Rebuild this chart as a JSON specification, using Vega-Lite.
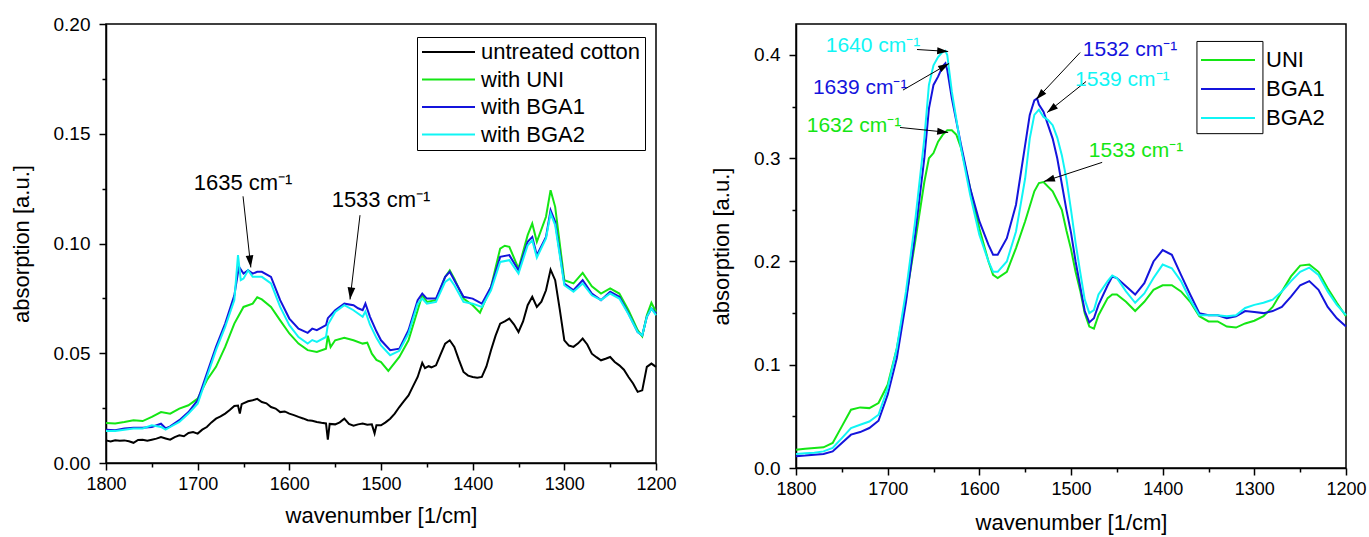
{
  "$schema": "https://vega.github.io/schema/vega-lite/v6.json",
  "padding": {"left": 9, "top": 14, "right": 5, "bottom": 5},
  "spacing": 32,
  "background": "white",
  "resolve": {"scale": {"color": "independent", "fill": "independent"}, "legend": {"color": "independent", "fill": "independent"}},
  "config": {
    "font": "Liberation Sans",
    "view": {"stroke": "black", "strokeWidth": 1.5},
    "axis": {"domainColor": "black", "domainWidth": 1.5, "tickColor": "black", "tickWidth": 1.5, "labelColor": "black", "labelFontSize": 18, "titleFontSize": 22, "titleFontWeight": "normal", "titleColor": "black", "grid": false, "labelFlush": false, "labelOverlap": false, "labelFont": "Liberation Sans", "titleFont": "Liberation Sans"},
    "legend": {"labelFont": "Liberation Sans", "labelColor": "black"}
  },
  "datasets": {
    "L": [
      {"w":1800,"s":"untreated cotton","a":0.0103},{"w":1795,"s":"untreated cotton","a":0.0098},{"w":1790,"s":"untreated cotton","a":0.0104},{"w":1785,"s":"untreated cotton","a":0.0101},{"w":1780,"s":"untreated cotton","a":0.0103},{"w":1775,"s":"untreated cotton","a":0.0099},{"w":1770,"s":"untreated cotton","a":0.0092},{"w":1765,"s":"untreated cotton","a":0.0105},{"w":1760,"s":"untreated cotton","a":0.0106},{"w":1755,"s":"untreated cotton","a":0.0101},{"w":1750,"s":"untreated cotton","a":0.0106},{"w":1745,"s":"untreated cotton","a":0.0111},{"w":1740,"s":"untreated cotton","a":0.0118},{"w":1735,"s":"untreated cotton","a":0.0112},{"w":1730,"s":"untreated cotton","a":0.0106},{"w":1725,"s":"untreated cotton","a":0.0118},{"w":1720,"s":"untreated cotton","a":0.0126},{"w":1715,"s":"untreated cotton","a":0.0122},{"w":1710,"s":"untreated cotton","a":0.0137},{"w":1705,"s":"untreated cotton","a":0.0141},{"w":1700,"s":"untreated cotton","a":0.0134},{"w":1695,"s":"untreated cotton","a":0.0152},{"w":1690,"s":"untreated cotton","a":0.0164},{"w":1685,"s":"untreated cotton","a":0.0185},{"w":1680,"s":"untreated cotton","a":0.0202},{"w":1675,"s":"untreated cotton","a":0.0212},{"w":1670,"s":"untreated cotton","a":0.0225},{"w":1665,"s":"untreated cotton","a":0.0241},{"w":1660,"s":"untreated cotton","a":0.026},{"w":1656,"s":"untreated cotton","a":0.0262},{"w":1654,"s":"untreated cotton","a":0.0225},{"w":1652,"s":"untreated cotton","a":0.0268},{"w":1645,"s":"untreated cotton","a":0.0281},{"w":1640,"s":"untreated cotton","a":0.0286},{"w":1635,"s":"untreated cotton","a":0.0292},{"w":1630,"s":"untreated cotton","a":0.0278},{"w":1625,"s":"untreated cotton","a":0.0272},{"w":1620,"s":"untreated cotton","a":0.0255},{"w":1615,"s":"untreated cotton","a":0.0248},{"w":1610,"s":"untreated cotton","a":0.0232},{"w":1605,"s":"untreated cotton","a":0.0235},{"w":1600,"s":"untreated cotton","a":0.0225},{"w":1595,"s":"untreated cotton","a":0.0218},{"w":1590,"s":"untreated cotton","a":0.021},{"w":1585,"s":"untreated cotton","a":0.0203},{"w":1580,"s":"untreated cotton","a":0.0195},{"w":1575,"s":"untreated cotton","a":0.0192},{"w":1570,"s":"untreated cotton","a":0.0187},{"w":1565,"s":"untreated cotton","a":0.0183},{"w":1560,"s":"untreated cotton","a":0.018},{"w":1558,"s":"untreated cotton","a":0.0106},{"w":1556,"s":"untreated cotton","a":0.0178},{"w":1550,"s":"untreated cotton","a":0.0176},{"w":1545,"s":"untreated cotton","a":0.0185},{"w":1540,"s":"untreated cotton","a":0.0202},{"w":1535,"s":"untreated cotton","a":0.0178},{"w":1530,"s":"untreated cotton","a":0.017},{"w":1525,"s":"untreated cotton","a":0.0176},{"w":1520,"s":"untreated cotton","a":0.018},{"w":1515,"s":"untreated cotton","a":0.0174},{"w":1510,"s":"untreated cotton","a":0.0176},{"w":1507,"s":"untreated cotton","a":0.0135},{"w":1505,"s":"untreated cotton","a":0.0172},{"w":1500,"s":"untreated cotton","a":0.0172},{"w":1495,"s":"untreated cotton","a":0.0185},{"w":1490,"s":"untreated cotton","a":0.0202},{"w":1485,"s":"untreated cotton","a":0.0225},{"w":1480,"s":"untreated cotton","a":0.0255},{"w":1475,"s":"untreated cotton","a":0.0282},{"w":1470,"s":"untreated cotton","a":0.0308},{"w":1465,"s":"untreated cotton","a":0.035},{"w":1460,"s":"untreated cotton","a":0.0392},{"w":1455,"s":"untreated cotton","a":0.0456},{"w":1452,"s":"untreated cotton","a":0.0432},{"w":1448,"s":"untreated cotton","a":0.0441},{"w":1445,"s":"untreated cotton","a":0.0436},{"w":1440,"s":"untreated cotton","a":0.0445},{"w":1435,"s":"untreated cotton","a":0.0495},{"w":1430,"s":"untreated cotton","a":0.0544},{"w":1425,"s":"untreated cotton","a":0.0559},{"w":1420,"s":"untreated cotton","a":0.0529},{"w":1415,"s":"untreated cotton","a":0.047},{"w":1410,"s":"untreated cotton","a":0.0415},{"w":1405,"s":"untreated cotton","a":0.0398},{"w":1400,"s":"untreated cotton","a":0.0392},{"w":1395,"s":"untreated cotton","a":0.0389},{"w":1390,"s":"untreated cotton","a":0.0392},{"w":1385,"s":"untreated cotton","a":0.044},{"w":1380,"s":"untreated cotton","a":0.0514},{"w":1375,"s":"untreated cotton","a":0.058},{"w":1370,"s":"untreated cotton","a":0.0635},{"w":1365,"s":"untreated cotton","a":0.0645},{"w":1360,"s":"untreated cotton","a":0.0658},{"w":1355,"s":"untreated cotton","a":0.0632},{"w":1350,"s":"untreated cotton","a":0.0597},{"w":1345,"s":"untreated cotton","a":0.0645},{"w":1340,"s":"untreated cotton","a":0.0719},{"w":1335,"s":"untreated cotton","a":0.0757},{"w":1330,"s":"untreated cotton","a":0.0711},{"w":1325,"s":"untreated cotton","a":0.0735},{"w":1320,"s":"untreated cotton","a":0.0787},{"w":1315,"s":"untreated cotton","a":0.0881},{"w":1310,"s":"untreated cotton","a":0.0833},{"w":1305,"s":"untreated cotton","a":0.07},{"w":1300,"s":"untreated cotton","a":0.0559},{"w":1295,"s":"untreated cotton","a":0.0535},{"w":1290,"s":"untreated cotton","a":0.0529},{"w":1285,"s":"untreated cotton","a":0.0545},{"w":1280,"s":"untreated cotton","a":0.0567},{"w":1275,"s":"untreated cotton","a":0.054},{"w":1270,"s":"untreated cotton","a":0.0498},{"w":1265,"s":"untreated cotton","a":0.0482},{"w":1260,"s":"untreated cotton","a":0.0468},{"w":1255,"s":"untreated cotton","a":0.0475},{"w":1250,"s":"untreated cotton","a":0.0483},{"w":1245,"s":"untreated cotton","a":0.046},{"w":1240,"s":"untreated cotton","a":0.0445},{"w":1235,"s":"untreated cotton","a":0.0425},{"w":1230,"s":"untreated cotton","a":0.0392},{"w":1225,"s":"untreated cotton","a":0.0362},{"w":1220,"s":"untreated cotton","a":0.0324},{"w":1215,"s":"untreated cotton","a":0.0331},{"w":1210,"s":"untreated cotton","a":0.0438},{"w":1205,"s":"untreated cotton","a":0.0453},{"w":1200,"s":"untreated cotton","a":0.0438},

      {"w":1800,"s":"with UNI","a":0.0182},{"w":1790,"s":"with UNI","a":0.018},{"w":1780,"s":"with UNI","a":0.0187},{"w":1770,"s":"with UNI","a":0.0195},{"w":1760,"s":"with UNI","a":0.0191},{"w":1750,"s":"with UNI","a":0.021},{"w":1740,"s":"with UNI","a":0.0232},{"w":1730,"s":"with UNI","a":0.0225},{"w":1720,"s":"with UNI","a":0.0248},{"w":1710,"s":"with UNI","a":0.0263},{"w":1700,"s":"with UNI","a":0.0293},{"w":1690,"s":"with UNI","a":0.0377},{"w":1680,"s":"with UNI","a":0.0438},{"w":1670,"s":"with UNI","a":0.0529},{"w":1660,"s":"with UNI","a":0.0635},{"w":1650,"s":"with UNI","a":0.0711},{"w":1640,"s":"with UNI","a":0.0726},{"w":1635,"s":"with UNI","a":0.0755},{"w":1630,"s":"with UNI","a":0.0745},{"w":1620,"s":"with UNI","a":0.0711},{"w":1610,"s":"with UNI","a":0.065},{"w":1600,"s":"with UNI","a":0.059},{"w":1590,"s":"with UNI","a":0.0544},{"w":1580,"s":"with UNI","a":0.0514},{"w":1570,"s":"with UNI","a":0.0506},{"w":1560,"s":"with UNI","a":0.0521},{"w":1558,"s":"with UNI","a":0.058},{"w":1555,"s":"with UNI","a":0.0528},{"w":1550,"s":"with UNI","a":0.0559},{"w":1540,"s":"with UNI","a":0.0571},{"w":1530,"s":"with UNI","a":0.0559},{"w":1520,"s":"with UNI","a":0.0544},{"w":1515,"s":"with UNI","a":0.0548},{"w":1510,"s":"with UNI","a":0.0498},{"w":1505,"s":"with UNI","a":0.047},{"w":1500,"s":"with UNI","a":0.046},{"w":1492,"s":"with UNI","a":0.042},{"w":1480,"s":"with UNI","a":0.0483},{"w":1470,"s":"with UNI","a":0.0559},{"w":1460,"s":"with UNI","a":0.0696},{"w":1455,"s":"with UNI","a":0.0764},{"w":1450,"s":"with UNI","a":0.0734},{"w":1440,"s":"with UNI","a":0.0742},{"w":1430,"s":"with UNI","a":0.0848},{"w":1425,"s":"with UNI","a":0.0878},{"w":1420,"s":"with UNI","a":0.084},{"w":1410,"s":"with UNI","a":0.0749},{"w":1400,"s":"with UNI","a":0.0719},{"w":1392,"s":"with UNI","a":0.0685},{"w":1380,"s":"with UNI","a":0.0802},{"w":1370,"s":"with UNI","a":0.0977},{"w":1365,"s":"with UNI","a":0.099},{"w":1360,"s":"with UNI","a":0.0985},{"w":1350,"s":"with UNI","a":0.0886},{"w":1340,"s":"with UNI","a":0.1038},{"w":1335,"s":"with UNI","a":0.1091},{"w":1330,"s":"with UNI","a":0.1008},{"w":1320,"s":"with UNI","a":0.1122},{"w":1315,"s":"with UNI","a":0.1243},{"w":1310,"s":"with UNI","a":0.1167},{"w":1300,"s":"with UNI","a":0.0833},{"w":1290,"s":"with UNI","a":0.0818},{"w":1280,"s":"with UNI","a":0.0866},{"w":1270,"s":"with UNI","a":0.0805},{"w":1260,"s":"with UNI","a":0.0772},{"w":1250,"s":"with UNI","a":0.0795},{"w":1240,"s":"with UNI","a":0.0772},{"w":1230,"s":"with UNI","a":0.0696},{"w":1220,"s":"with UNI","a":0.0605},{"w":1215,"s":"with UNI","a":0.0577},{"w":1210,"s":"with UNI","a":0.0673},{"w":1205,"s":"with UNI","a":0.073},{"w":1200,"s":"with UNI","a":0.0688},

      {"w":1800,"s":"with BGA1","a":0.0152},{"w":1790,"s":"with BGA1","a":0.0149},{"w":1780,"s":"with BGA1","a":0.0157},{"w":1770,"s":"with BGA1","a":0.0161},{"w":1760,"s":"with BGA1","a":0.0161},{"w":1750,"s":"with BGA1","a":0.0164},{"w":1740,"s":"with BGA1","a":0.0179},{"w":1735,"s":"with BGA1","a":0.0158},{"w":1730,"s":"with BGA1","a":0.0167},{"w":1720,"s":"with BGA1","a":0.0195},{"w":1710,"s":"with BGA1","a":0.0232},{"w":1700,"s":"with BGA1","a":0.0286},{"w":1690,"s":"with BGA1","a":0.0407},{"w":1680,"s":"with BGA1","a":0.0529},{"w":1670,"s":"with BGA1","a":0.0635},{"w":1660,"s":"with BGA1","a":0.0764},{"w":1655,"s":"with BGA1","a":0.0894},{"w":1650,"s":"with BGA1","a":0.0863},{"w":1645,"s":"with BGA1","a":0.0878},{"w":1640,"s":"with BGA1","a":0.0863},{"w":1635,"s":"with BGA1","a":0.0871},{"w":1630,"s":"with BGA1","a":0.0871},{"w":1620,"s":"with BGA1","a":0.0848},{"w":1610,"s":"with BGA1","a":0.0742},{"w":1600,"s":"with BGA1","a":0.0658},{"w":1590,"s":"with BGA1","a":0.0612},{"w":1580,"s":"with BGA1","a":0.0593},{"w":1575,"s":"with BGA1","a":0.0612},{"w":1570,"s":"with BGA1","a":0.0605},{"w":1560,"s":"with BGA1","a":0.0628},{"w":1558,"s":"with BGA1","a":0.066},{"w":1550,"s":"with BGA1","a":0.0696},{"w":1540,"s":"with BGA1","a":0.0726},{"w":1530,"s":"with BGA1","a":0.0719},{"w":1525,"s":"with BGA1","a":0.0705},{"w":1520,"s":"with BGA1","a":0.0696},{"w":1517,"s":"with BGA1","a":0.0726},{"w":1512,"s":"with BGA1","a":0.0666},{"w":1505,"s":"with BGA1","a":0.06},{"w":1500,"s":"with BGA1","a":0.0559},{"w":1490,"s":"with BGA1","a":0.0514},{"w":1480,"s":"with BGA1","a":0.0521},{"w":1470,"s":"with BGA1","a":0.0605},{"w":1460,"s":"with BGA1","a":0.0742},{"w":1455,"s":"with BGA1","a":0.0772},{"w":1450,"s":"with BGA1","a":0.0749},{"w":1440,"s":"with BGA1","a":0.0749},{"w":1430,"s":"with BGA1","a":0.0848},{"w":1425,"s":"with BGA1","a":0.0871},{"w":1420,"s":"with BGA1","a":0.0833},{"w":1410,"s":"with BGA1","a":0.0757},{"w":1400,"s":"with BGA1","a":0.0749},{"w":1390,"s":"with BGA1","a":0.0726},{"w":1380,"s":"with BGA1","a":0.0802},{"w":1370,"s":"with BGA1","a":0.0939},{"w":1360,"s":"with BGA1","a":0.0947},{"w":1350,"s":"with BGA1","a":0.0878},{"w":1340,"s":"with BGA1","a":0.1008},{"w":1335,"s":"with BGA1","a":0.103},{"w":1330,"s":"with BGA1","a":0.0947},{"w":1320,"s":"with BGA1","a":0.103},{"w":1315,"s":"with BGA1","a":0.1152},{"w":1310,"s":"with BGA1","a":0.1099},{"w":1300,"s":"with BGA1","a":0.0818},{"w":1290,"s":"with BGA1","a":0.0787},{"w":1280,"s":"with BGA1","a":0.0833},{"w":1270,"s":"with BGA1","a":0.0772},{"w":1260,"s":"with BGA1","a":0.0742},{"w":1250,"s":"with BGA1","a":0.078},{"w":1240,"s":"with BGA1","a":0.0757},{"w":1230,"s":"with BGA1","a":0.0681},{"w":1220,"s":"with BGA1","a":0.0597},{"w":1215,"s":"with BGA1","a":0.0582},{"w":1210,"s":"with BGA1","a":0.0666},{"w":1205,"s":"with BGA1","a":0.0704},{"w":1200,"s":"with BGA1","a":0.0681},

      {"w":1800,"s":"with BGA2","a":0.0146},{"w":1790,"s":"with BGA2","a":0.0146},{"w":1780,"s":"with BGA2","a":0.0152},{"w":1770,"s":"with BGA2","a":0.0157},{"w":1760,"s":"with BGA2","a":0.0157},{"w":1750,"s":"with BGA2","a":0.0172},{"w":1740,"s":"with BGA2","a":0.0164},{"w":1735,"s":"with BGA2","a":0.0152},{"w":1730,"s":"with BGA2","a":0.0164},{"w":1720,"s":"with BGA2","a":0.0187},{"w":1710,"s":"with BGA2","a":0.0225},{"w":1700,"s":"with BGA2","a":0.027},{"w":1690,"s":"with BGA2","a":0.0392},{"w":1680,"s":"with BGA2","a":0.0514},{"w":1670,"s":"with BGA2","a":0.062},{"w":1660,"s":"with BGA2","a":0.0742},{"w":1656,"s":"with BGA2","a":0.0947},{"w":1653,"s":"with BGA2","a":0.0833},{"w":1650,"s":"with BGA2","a":0.084},{"w":1645,"s":"with BGA2","a":0.0878},{"w":1640,"s":"with BGA2","a":0.0848},{"w":1630,"s":"with BGA2","a":0.0848},{"w":1620,"s":"with BGA2","a":0.0818},{"w":1610,"s":"with BGA2","a":0.0711},{"w":1600,"s":"with BGA2","a":0.0628},{"w":1590,"s":"with BGA2","a":0.0574},{"w":1580,"s":"with BGA2","a":0.0544},{"w":1575,"s":"with BGA2","a":0.056},{"w":1570,"s":"with BGA2","a":0.0552},{"w":1560,"s":"with BGA2","a":0.0574},{"w":1558,"s":"with BGA2","a":0.063},{"w":1550,"s":"with BGA2","a":0.0688},{"w":1540,"s":"with BGA2","a":0.0719},{"w":1530,"s":"with BGA2","a":0.0696},{"w":1520,"s":"with BGA2","a":0.0666},{"w":1517,"s":"with BGA2","a":0.069},{"w":1512,"s":"with BGA2","a":0.063},{"w":1505,"s":"with BGA2","a":0.057},{"w":1500,"s":"with BGA2","a":0.0536},{"w":1490,"s":"with BGA2","a":0.0491},{"w":1480,"s":"with BGA2","a":0.0511},{"w":1470,"s":"with BGA2","a":0.059},{"w":1460,"s":"with BGA2","a":0.0726},{"w":1455,"s":"with BGA2","a":0.0749},{"w":1450,"s":"with BGA2","a":0.0726},{"w":1440,"s":"with BGA2","a":0.0734},{"w":1430,"s":"with BGA2","a":0.0825},{"w":1425,"s":"with BGA2","a":0.084},{"w":1420,"s":"with BGA2","a":0.081},{"w":1410,"s":"with BGA2","a":0.0734},{"w":1400,"s":"with BGA2","a":0.0726},{"w":1390,"s":"with BGA2","a":0.0711},{"w":1380,"s":"with BGA2","a":0.0787},{"w":1370,"s":"with BGA2","a":0.0916},{"w":1360,"s":"with BGA2","a":0.0924},{"w":1350,"s":"with BGA2","a":0.0863},{"w":1340,"s":"with BGA2","a":0.0992},{"w":1335,"s":"with BGA2","a":0.1015},{"w":1330,"s":"with BGA2","a":0.0936},{"w":1320,"s":"with BGA2","a":0.1023},{"w":1315,"s":"with BGA2","a":0.1137},{"w":1310,"s":"with BGA2","a":0.1084},{"w":1300,"s":"with BGA2","a":0.081},{"w":1290,"s":"with BGA2","a":0.078},{"w":1280,"s":"with BGA2","a":0.0818},{"w":1270,"s":"with BGA2","a":0.0764},{"w":1260,"s":"with BGA2","a":0.0742},{"w":1250,"s":"with BGA2","a":0.0772},{"w":1240,"s":"with BGA2","a":0.0749},{"w":1230,"s":"with BGA2","a":0.0678},{"w":1220,"s":"with BGA2","a":0.0597},{"w":1215,"s":"with BGA2","a":0.0582},{"w":1210,"s":"with BGA2","a":0.0666},{"w":1205,"s":"with BGA2","a":0.0704},{"w":1200,"s":"with BGA2","a":0.0673}
    ],
    "R": [
      {"w":1800,"s":"UNI","a":0.0177},{"w":1790,"s":"UNI","a":0.0187},{"w":1780,"s":"UNI","a":0.0194},{"w":1770,"s":"UNI","a":0.02},{"w":1760,"s":"UNI","a":0.0242},{"w":1750,"s":"UNI","a":0.0403},{"w":1740,"s":"UNI","a":0.0565},{"w":1730,"s":"UNI","a":0.0587},{"w":1720,"s":"UNI","a":0.058},{"w":1710,"s":"UNI","a":0.0629},{"w":1700,"s":"UNI","a":0.0806},{"w":1690,"s":"UNI","a":0.116},{"w":1680,"s":"UNI","a":0.1645},{"w":1670,"s":"UNI","a":0.219},{"w":1660,"s":"UNI","a":0.277},{"w":1655,"s":"UNI","a":0.3},{"w":1650,"s":"UNI","a":0.305},{"w":1645,"s":"UNI","a":0.316},{"w":1640,"s":"UNI","a":0.3226},{"w":1635,"s":"UNI","a":0.327},{"w":1630,"s":"UNI","a":0.327},{"w":1625,"s":"UNI","a":0.3226},{"w":1620,"s":"UNI","a":0.31},{"w":1610,"s":"UNI","a":0.271},{"w":1600,"s":"UNI","a":0.232},{"w":1590,"s":"UNI","a":0.2},{"w":1585,"s":"UNI","a":0.187},{"w":1580,"s":"UNI","a":0.184},{"w":1570,"s":"UNI","a":0.19},{"w":1560,"s":"UNI","a":0.213},{"w":1550,"s":"UNI","a":0.239},{"w":1540,"s":"UNI","a":0.268},{"w":1535,"s":"UNI","a":0.276},{"w":1530,"s":"UNI","a":0.277},{"w":1520,"s":"UNI","a":0.268},{"w":1510,"s":"UNI","a":0.25},{"w":1505,"s":"UNI","a":0.23},{"w":1500,"s":"UNI","a":0.212},{"w":1495,"s":"UNI","a":0.19},{"w":1490,"s":"UNI","a":0.172},{"w":1485,"s":"UNI","a":0.15},{"w":1480,"s":"UNI","a":0.137},{"w":1475,"s":"UNI","a":0.135},{"w":1470,"s":"UNI","a":0.148},{"w":1460,"s":"UNI","a":0.1645},{"w":1455,"s":"UNI","a":0.168},{"w":1450,"s":"UNI","a":0.168},{"w":1440,"s":"UNI","a":0.161},{"w":1430,"s":"UNI","a":0.152},{"w":1420,"s":"UNI","a":0.161},{"w":1410,"s":"UNI","a":0.1726},{"w":1400,"s":"UNI","a":0.177},{"w":1390,"s":"UNI","a":0.177},{"w":1380,"s":"UNI","a":0.171},{"w":1370,"s":"UNI","a":0.161},{"w":1360,"s":"UNI","a":0.147},{"w":1350,"s":"UNI","a":0.142},{"w":1340,"s":"UNI","a":0.142},{"w":1330,"s":"UNI","a":0.137},{"w":1320,"s":"UNI","a":0.136},{"w":1310,"s":"UNI","a":0.14},{"w":1300,"s":"UNI","a":0.1426},{"w":1290,"s":"UNI","a":0.147},{"w":1280,"s":"UNI","a":0.156},{"w":1270,"s":"UNI","a":0.171},{"w":1260,"s":"UNI","a":0.1855},{"w":1250,"s":"UNI","a":0.196},{"w":1240,"s":"UNI","a":0.197},{"w":1230,"s":"UNI","a":0.19},{"w":1220,"s":"UNI","a":0.174},{"w":1210,"s":"UNI","a":0.16},{"w":1200,"s":"UNI","a":0.147},

      {"w":1800,"s":"BGA1","a":0.0113},{"w":1790,"s":"BGA1","a":0.012},{"w":1780,"s":"BGA1","a":0.0129},{"w":1770,"s":"BGA1","a":0.0135},{"w":1760,"s":"BGA1","a":0.0161},{"w":1750,"s":"BGA1","a":0.0242},{"w":1740,"s":"BGA1","a":0.0323},{"w":1730,"s":"BGA1","a":0.0348},{"w":1720,"s":"BGA1","a":0.0387},{"w":1710,"s":"BGA1","a":0.0458},{"w":1700,"s":"BGA1","a":0.071},{"w":1690,"s":"BGA1","a":0.1065},{"w":1680,"s":"BGA1","a":0.161},{"w":1670,"s":"BGA1","a":0.226},{"w":1660,"s":"BGA1","a":0.3},{"w":1655,"s":"BGA1","a":0.348},{"w":1650,"s":"BGA1","a":0.371},{"w":1645,"s":"BGA1","a":0.379},{"w":1640,"s":"BGA1","a":0.389},{"w":1637,"s":"BGA1","a":0.392},{"w":1635,"s":"BGA1","a":0.3855},{"w":1630,"s":"BGA1","a":0.358},{"w":1620,"s":"BGA1","a":0.313},{"w":1610,"s":"BGA1","a":0.271},{"w":1600,"s":"BGA1","a":0.239},{"w":1590,"s":"BGA1","a":0.216},{"w":1585,"s":"BGA1","a":0.2065},{"w":1580,"s":"BGA1","a":0.2065},{"w":1570,"s":"BGA1","a":0.2226},{"w":1560,"s":"BGA1","a":0.255},{"w":1550,"s":"BGA1","a":0.313},{"w":1545,"s":"BGA1","a":0.342},{"w":1540,"s":"BGA1","a":0.356},{"w":1537,"s":"BGA1","a":0.358},{"w":1535,"s":"BGA1","a":0.352},{"w":1530,"s":"BGA1","a":0.345},{"w":1520,"s":"BGA1","a":0.319},{"w":1515,"s":"BGA1","a":0.3},{"w":1510,"s":"BGA1","a":0.275},{"w":1505,"s":"BGA1","a":0.25},{"w":1500,"s":"BGA1","a":0.228},{"w":1495,"s":"BGA1","a":0.2},{"w":1490,"s":"BGA1","a":0.176},{"w":1485,"s":"BGA1","a":0.152},{"w":1480,"s":"BGA1","a":0.141},{"w":1475,"s":"BGA1","a":0.145},{"w":1470,"s":"BGA1","a":0.158},{"w":1460,"s":"BGA1","a":0.177},{"w":1455,"s":"BGA1","a":0.1855},{"w":1450,"s":"BGA1","a":0.184},{"w":1440,"s":"BGA1","a":0.176},{"w":1430,"s":"BGA1","a":0.168},{"w":1420,"s":"BGA1","a":0.179},{"w":1410,"s":"BGA1","a":0.2},{"w":1400,"s":"BGA1","a":0.211},{"w":1390,"s":"BGA1","a":0.2065},{"w":1380,"s":"BGA1","a":0.187},{"w":1370,"s":"BGA1","a":0.168},{"w":1360,"s":"BGA1","a":0.15},{"w":1350,"s":"BGA1","a":0.148},{"w":1340,"s":"BGA1","a":0.148},{"w":1330,"s":"BGA1","a":0.145},{"w":1320,"s":"BGA1","a":0.147},{"w":1310,"s":"BGA1","a":0.152},{"w":1300,"s":"BGA1","a":0.151},{"w":1290,"s":"BGA1","a":0.15},{"w":1280,"s":"BGA1","a":0.152},{"w":1270,"s":"BGA1","a":0.156},{"w":1260,"s":"BGA1","a":0.166},{"w":1250,"s":"BGA1","a":0.177},{"w":1240,"s":"BGA1","a":0.181},{"w":1230,"s":"BGA1","a":0.1726},{"w":1220,"s":"BGA1","a":0.156},{"w":1210,"s":"BGA1","a":0.145},{"w":1200,"s":"BGA1","a":0.137},

      {"w":1800,"s":"BGA2","a":0.0135},{"w":1790,"s":"BGA2","a":0.0142},{"w":1780,"s":"BGA2","a":0.0148},{"w":1770,"s":"BGA2","a":0.0161},{"w":1760,"s":"BGA2","a":0.0194},{"w":1750,"s":"BGA2","a":0.029},{"w":1740,"s":"BGA2","a":0.0387},{"w":1730,"s":"BGA2","a":0.0419},{"w":1720,"s":"BGA2","a":0.045},{"w":1710,"s":"BGA2","a":0.0516},{"w":1700,"s":"BGA2","a":0.0774},{"w":1690,"s":"BGA2","a":0.116},{"w":1680,"s":"BGA2","a":0.171},{"w":1670,"s":"BGA2","a":0.239},{"w":1660,"s":"BGA2","a":0.319},{"w":1655,"s":"BGA2","a":0.371},{"w":1650,"s":"BGA2","a":0.39},{"w":1645,"s":"BGA2","a":0.398},{"w":1640,"s":"BGA2","a":0.403},{"w":1637,"s":"BGA2","a":0.404},{"w":1635,"s":"BGA2","a":0.4},{"w":1630,"s":"BGA2","a":0.3645},{"w":1620,"s":"BGA2","a":0.31},{"w":1610,"s":"BGA2","a":0.2645},{"w":1600,"s":"BGA2","a":0.226},{"w":1590,"s":"BGA2","a":0.2},{"w":1585,"s":"BGA2","a":0.19},{"w":1580,"s":"BGA2","a":0.19},{"w":1570,"s":"BGA2","a":0.2},{"w":1560,"s":"BGA2","a":0.229},{"w":1550,"s":"BGA2","a":0.2806},{"w":1545,"s":"BGA2","a":0.319},{"w":1540,"s":"BGA2","a":0.342},{"w":1535,"s":"BGA2","a":0.347},{"w":1530,"s":"BGA2","a":0.34},{"w":1525,"s":"BGA2","a":0.337},{"w":1520,"s":"BGA2","a":0.332},{"w":1515,"s":"BGA2","a":0.32},{"w":1510,"s":"BGA2","a":0.303},{"w":1505,"s":"BGA2","a":0.28},{"w":1500,"s":"BGA2","a":0.25},{"w":1495,"s":"BGA2","a":0.218},{"w":1490,"s":"BGA2","a":0.19},{"w":1485,"s":"BGA2","a":0.163},{"w":1480,"s":"BGA2","a":0.15},{"w":1475,"s":"BGA2","a":0.153},{"w":1470,"s":"BGA2","a":0.168},{"w":1460,"s":"BGA2","a":0.181},{"w":1455,"s":"BGA2","a":0.1865},{"w":1450,"s":"BGA2","a":0.184},{"w":1440,"s":"BGA2","a":0.171},{"w":1430,"s":"BGA2","a":0.16},{"w":1420,"s":"BGA2","a":0.169},{"w":1410,"s":"BGA2","a":0.184},{"w":1400,"s":"BGA2","a":0.197},{"w":1390,"s":"BGA2","a":0.1935},{"w":1380,"s":"BGA2","a":0.181},{"w":1370,"s":"BGA2","a":0.163},{"w":1360,"s":"BGA2","a":0.148},{"w":1350,"s":"BGA2","a":0.148},{"w":1340,"s":"BGA2","a":0.148},{"w":1330,"s":"BGA2","a":0.147},{"w":1320,"s":"BGA2","a":0.148},{"w":1310,"s":"BGA2","a":0.155},{"w":1300,"s":"BGA2","a":0.158},{"w":1290,"s":"BGA2","a":0.16},{"w":1280,"s":"BGA2","a":0.163},{"w":1270,"s":"BGA2","a":0.171},{"w":1260,"s":"BGA2","a":0.181},{"w":1250,"s":"BGA2","a":0.19},{"w":1240,"s":"BGA2","a":0.194},{"w":1230,"s":"BGA2","a":0.187},{"w":1220,"s":"BGA2","a":0.171},{"w":1210,"s":"BGA2","a":0.158},{"w":1200,"s":"BGA2","a":0.148}
    ],
    "AL": [
      {"label":"1635 cm⁻¹","tx":1650.5,"ty":0.1275,"x1":1650.5,"y1":0.1215,"x2":1642,"y2":0.0891},
      {"label":"1533 cm⁻¹","tx":1500,"ty":0.1198,"x1":1522.9,"y1":0.1129,"x2":1533.8,"y2":0.0745}
    ],
    "AR": [
      {"s":"BGA2","label":"1640 cm⁻¹","tx":1716,"ty":0.409,"x1":1668,"y1":0.4053,"x2":1634,"y2":0.4034},
      {"s":"BGA1","label":"1639 cm⁻¹","tx":1730,"ty":0.3685,"x1":1683.3,"y1":0.366,"x2":1633,"y2":0.3918},
      {"s":"UNI","label":"1632 cm⁻¹","tx":1736.7,"ty":0.331,"x1":1686.5,"y1":0.3298,"x2":1634,"y2":0.325},
      {"s":"BGA1","label":"1532 cm⁻¹","tx":1435.6,"ty":0.405,"x1":1490,"y1":0.4024,"x2":1538,"y2":0.357},
      {"s":"BGA2","label":"1539 cm⁻¹","tx":1444,"ty":0.376,"x1":1483.6,"y1":0.3743,"x2":1526,"y2":0.3443},
      {"s":"UNI","label":"1533 cm⁻¹","tx":1429,"ty":0.3066,"x1":1466,"y1":0.296,"x2":1529.5,"y2":0.2775}
    ],
    "BOX": [
      {"x1":1362.6,"x2":1290.6,"y1":0.4131,"y2":0.3238}
    ]
  },
  "hconcat": [
    {
      "width": 550,
      "height": 439,
      "layer": [
        {
          "data": {"name": "L"},
          "mark": {"type": "line", "strokeWidth": 2},
          "encoding": {
            "x": {"field": "w", "type": "quantitative", "title": "wavenumber [1/cm]",
              "scale": {"domain": [1200, 1800], "reverse": true, "nice": false, "zero": false},
              "axis": {"values": [1200,1250,1300,1350,1400,1450,1500,1550,1600,1650,1700,1750,1800], "format": "d",
                "labelExpr": "datum.value % 100 === 0 ? datum.label : ''",
                "tickSize": {"condition": {"test": "datum.value % 100 === 0", "value": 7}, "value": 4},
                "labelPadding": 5, "titlePadding": 12}},
            "y": {"field": "a", "type": "quantitative", "title": "absorption [a.u.]",
              "scale": {"domain": [0, 0.2], "nice": false, "zero": false},
              "axis": {"values": [0,0.025,0.05,0.075,0.1,0.125,0.15,0.175,0.2], "format": ".2f", "labelFontSize": 19,
                "labelExpr": "round(datum.value*1000) % 50 === 0 ? datum.label : ''",
                "tickSize": {"condition": {"test": "round(datum.value*1000) % 50 === 0", "value": 7}, "value": 4},
                "labelPadding": 9, "titlePadding": 20}},
            "color": {"field": "s", "type": "nominal",
              "scale": {"domain": ["untreated cotton", "with UNI", "with BGA1", "with BGA2"], "range": ["#000000", "#14e614", "#1414dc", "#10f5f5"]},
              "legend": {"orient": "none", "legendX": 311, "legendY": 13, "title": null, "symbolType": "stroke", "symbolSize": 2809, "symbolStrokeWidth": 2, "labelFontSize": 22, "strokeColor": "black", "padding": 4, "clipHeight": 22, "rowPadding": 5.5, "labelOffset": 5, "labelLimit": 0}}
          }
        },
        {
          "data": {"name": "AL"},
          "mark": {"type": "rule", "color": "black", "strokeWidth": 1},
          "encoding": {
            "x": {"field": "x1", "type": "quantitative", "title": "wavenumber [1/cm]"},
            "y": {"field": "y1", "type": "quantitative", "title": "absorption [a.u.]"},
            "x2": {"field": "x2"},
            "y2": {"field": "y2"}
          }
        },
        {
          "data": {"name": "AL"},
          "mark": {"type": "point", "shape": "M0,0L-1,-0.32L-1,0.32Z", "filled": true, "color": "black", "opacity": 1, "size": 576,
            "angle": {"expr": "atan2(scale('concat_0_y', datum.y2) - scale('concat_0_y', datum.y1), scale('concat_0_x', datum.x2) - scale('concat_0_x', datum.x1)) * 180 / PI"}},
          "encoding": {
            "x": {"field": "x2", "type": "quantitative", "title": "wavenumber [1/cm]"},
            "y": {"field": "y2", "type": "quantitative", "title": "absorption [a.u.]"}
          }
        },
        {
          "data": {"name": "AL"},
          "mark": {"type": "text", "fontSize": 22, "color": "black", "align": "center", "baseline": "middle"},
          "encoding": {
            "x": {"field": "tx", "type": "quantitative", "title": "wavenumber [1/cm]"},
            "y": {"field": "ty", "type": "quantitative", "title": "absorption [a.u.]"},
            "text": {"field": "label"}
          }
        }
      ]
    },
    {
      "width": 550,
      "height": 444,
      "layer": [
        {
          "data": {"name": "R"},
          "mark": {"type": "line", "strokeWidth": 2},
          "encoding": {
            "x": {"field": "w", "type": "quantitative", "title": "wavenumber [1/cm]",
              "scale": {"domain": [1200, 1800], "reverse": true, "nice": false, "zero": false},
              "axis": {"values": [1200,1250,1300,1350,1400,1450,1500,1550,1600,1650,1700,1750,1800], "format": "d",
                "labelExpr": "datum.value % 100 === 0 ? datum.label : ''",
                "tickSize": {"condition": {"test": "datum.value % 100 === 0", "value": 7}, "value": 4},
                "labelPadding": 5, "titlePadding": 14}},
            "y": {"field": "a", "type": "quantitative", "title": "absorption [a.u.]",
              "scale": {"domain": [0, 0.43], "nice": false, "zero": false},
              "axis": {"values": [0,0.05,0.1,0.15,0.2,0.25,0.3,0.35,0.4], "format": ".1f", "labelFontSize": 19,
                "labelExpr": "round(datum.value*1000) % 100 === 0 ? datum.label : ''",
                "tickSize": {"condition": {"test": "round(datum.value*1000) % 100 === 0", "value": 7}, "value": 4},
                "labelPadding": 9, "titlePadding": 20}},
            "color": {"field": "s", "type": "nominal",
              "scale": {"domain": ["UNI", "BGA1", "BGA2"], "range": ["#14e614", "#1414dc", "#10f5f5"]},
              "legend": {"orient": "none", "legendX": 401, "legendY": 22, "title": null, "symbolType": "stroke", "symbolSize": 2916, "symbolStrokeWidth": 2, "labelFontSize": 22, "padding": 3, "clipHeight": 22, "rowPadding": 7, "labelOffset": 10, "labelLimit": 0}}
          }
        },
        {
          "data": {"name": "BOX"},
          "mark": {"type": "rect", "filled": false, "stroke": "black", "strokeWidth": 1},
          "encoding": {
            "x": {"field": "x1", "type": "quantitative", "title": "wavenumber [1/cm]"},
            "x2": {"field": "x2"},
            "y": {"field": "y1", "type": "quantitative", "title": "absorption [a.u.]"},
            "y2": {"field": "y2"}
          }
        },
        {
          "data": {"name": "AR"},
          "mark": {"type": "rule", "color": "black", "strokeWidth": 1},
          "encoding": {
            "x": {"field": "x1", "type": "quantitative", "title": "wavenumber [1/cm]"},
            "y": {"field": "y1", "type": "quantitative", "title": "absorption [a.u.]"},
            "x2": {"field": "x2"},
            "y2": {"field": "y2"}
          }
        },
        {
          "data": {"name": "AR"},
          "mark": {"type": "point", "shape": "M0,0L-1,-0.32L-1,0.32Z", "filled": true, "color": "black", "opacity": 1, "size": 484,
            "angle": {"expr": "atan2(scale('concat_1_y', datum.y2) - scale('concat_1_y', datum.y1), scale('concat_1_x', datum.x2) - scale('concat_1_x', datum.x1)) * 180 / PI"}},
          "encoding": {
            "x": {"field": "x2", "type": "quantitative", "title": "wavenumber [1/cm]"},
            "y": {"field": "y2", "type": "quantitative", "title": "absorption [a.u.]"}
          }
        },
        {
          "data": {"name": "AR"},
          "mark": {"type": "text", "fontSize": 21, "align": "center", "baseline": "middle"},
          "encoding": {
            "x": {"field": "tx", "type": "quantitative", "title": "wavenumber [1/cm]"},
            "y": {"field": "ty", "type": "quantitative", "title": "absorption [a.u.]"},
            "text": {"field": "label"},
            "fill": {"field": "s", "type": "nominal",
              "scale": {"domain": ["UNI", "BGA1", "BGA2"], "range": ["#14e614", "#1414dc", "#10f5f5"]},
              "legend": null}
          }
        }
      ]
    }
  ]
}
